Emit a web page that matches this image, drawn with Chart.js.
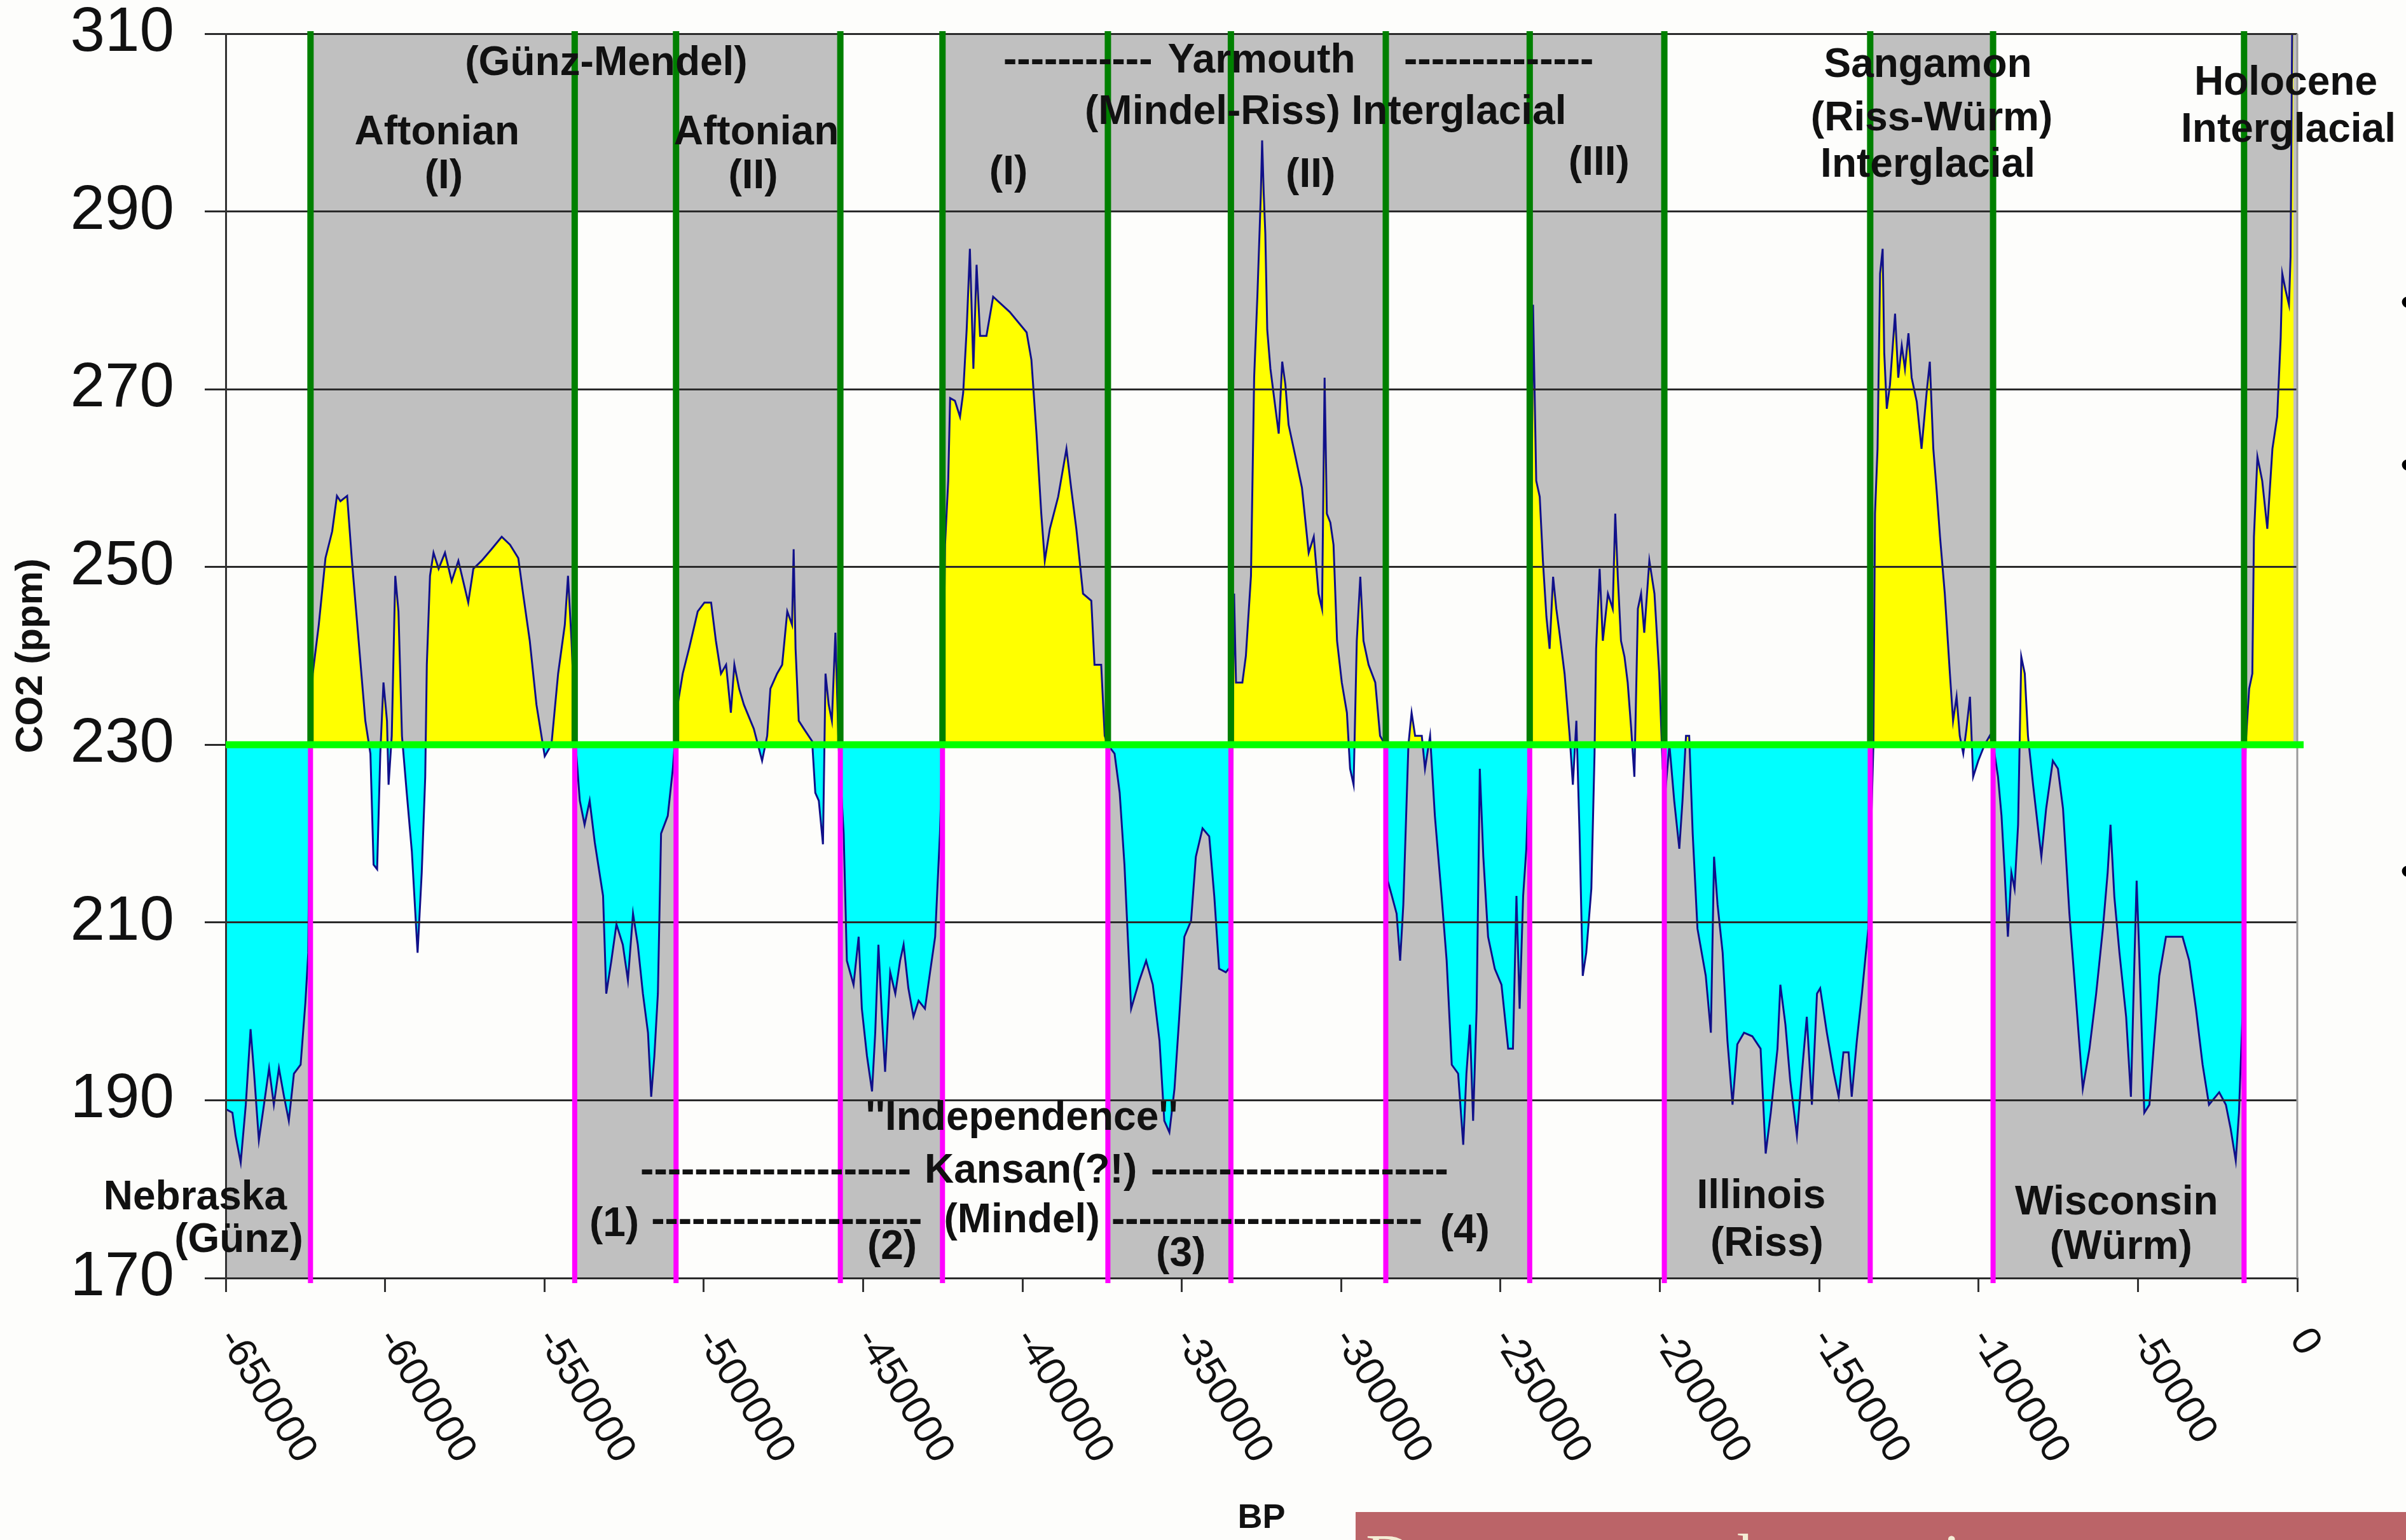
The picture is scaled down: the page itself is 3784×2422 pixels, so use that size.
<!DOCTYPE html>
<html>
<head>
<meta charset="utf-8">
<script src="https://cdn.jsdelivr.net/npm/chart.js@4.4.1/dist/chart.umd.min.js"></script>
<style>
  html, body { margin: 0; padding: 0; background: #fdfdfb; overflow: hidden; }
  #wrap { position: relative; width: 3784px; height: 2422px; }
  .bullet { position: absolute; left: 3775px; font: 64px "Liberation Sans", Arial, sans-serif; line-height: 64px; color: #000; }
  #slideBox { position: absolute; left: 2132px; top: 2378px; width: 1652px; height: 44px; background: #bb6468; overflow: hidden; }
  #slideBox span { position: absolute; left: 16px; top: 20px; font: 100px "Liberation Serif", serif; line-height: 100px; color: #f4ecd4; white-space: nowrap; }
</style>
</head>
<body>
<div id="wrap">
  <canvas id="graficoCO2" width="3784" height="2422"></canvas>
  <span class="bullet" style="top:443px">•</span>
  <span class="bullet" style="top:699px">•</span>
  <span class="bullet" style="top:1338px">•</span>
  <div id="slideBox"><span>Data compared across ice cores</span></div>
</div>
<script>
// CO2 record, years BP (negative) and ppm
const years = [
  -650000,-647900,-646900,-645300,-643700,-642200,-641100,-639600,-638000,-636400,-634900,-633300,-631700,-630200,-628600,-626500,-625000,-624100,-623400,-622700,
  -620800,-618700,-616600,-615100,-614000,-611900,-610400,-608300,-606200,-604600,-603600,-602500,-601500,-600500,-599400,-598900,-597900,-596800,-595800,-594700,
  -593200,-591600,-589800,-588500,-587400,-586900,-585900,-584800,-583200,-581200,-579100,-577000,-573900,-572300,-569700,-566600,-563400,-560800,-558200,-556700,
  -554600,-552500,-549900,-547800,-545700,-543600,-542600,-541500,-540000,-538900,-537400,-535800,-534200,-531600,-530600,-529000,-527400,-525400,-523800,-522200,
  -520700,-519100,-517500,-516500,-515500,-514400,-513400,-511300,-509700,-508200,-506600,-504500,-501900,-499800,-497700,-496200,-494600,-493000,-491500,-490400,
  -488900,-487400,-484300,-481700,-480100,-479100,-477000,-475400,-473800,-472300,-471800,-471200,-470200,-468600,-466000,-465000,-463900,-462600,-461800,-460800,
  -459800,-458700,-457700,-456100,-455100,-453000,-451400,-450400,-448800,-447200,-446200,-445200,-444100,-443100,-441500,-439900,-438400,-437300,-435800,-434200,
  -432600,-430600,-429000,-427400,-425900,-425000,-424300,-423300,-422700,-421200,-419600,-418600,-417500,-416500,-415400,-414400,-413300,-411300,-409200,-404000,
  -398700,-397200,-395600,-394100,-393000,-391400,-388800,-386200,-384700,-383100,-381000,-378400,-377400,-375300,-374200,-373200,-371100,-369500,-368000,-365900,
  -363300,-361200,-359100,-357000,-355500,-353900,-352300,-350800,-349200,-347100,-345600,-343500,-341400,-339800,-338300,-336200,-334800,-333600,-333000,-331000,
  -329900,-328300,-327300,-326300,-325200,-324800,-324300,-323800,-323200,-322200,-320600,-319600,-318500,-317500,-316500,-314400,-312300,-310200,-308600,-307100,
  -306000,-305200,-304500,-303400,-302400,-301300,-299800,-298200,-297200,-296100,-295100,-294000,-293000,-291400,-289300,-287800,-286200,-285400,-284100,-282600,
  -281500,-280500,-278900,-277900,-276800,-274700,-273700,-272100,-270600,-268500,-266900,-265300,-263300,-261700,-260700,-259600,-258600,-257500,-256500,-255400,
  -253900,-251800,-249700,-247600,-246100,-245000,-244000,-242900,-241900,-240800,-239800,-238800,-237700,-236700,-235600,-234600,-233500,-232500,-231500,-229900,
  -228300,-227300,-226200,-225200,-224200,-223100,-221500,-220500,-220000,-218900,-217900,-216300,-214800,-214000,-213200,-212200,-211100,-210100,-209000,-208000,
  -206900,-205900,-204900,-203300,-201700,-200200,-199100,-198100,-197000,-195500,-193900,-192900,-191800,-190800,-189700,-188200,-185600,-184000,-183000,-181900,
  -180300,-178800,-177200,-175700,-173600,-171000,-168400,-166800,-165200,-163100,-162200,-160600,-159100,-157000,-155400,-153900,-152300,-150700,-149700,-147600,
  -145500,-143900,-142400,-140800,-139800,-138200,-136600,-135600,-134600,-133000,-132500,-131700,-130900,-130100,-129600,-128800,-127800,-126200,-125200,-124100,
  -123100,-122000,-121000,-119400,-117900,-116300,-115300,-114200,-113200,-112100,-110600,-109000,-108000,-106900,-105900,-104800,-103800,-102700,-101700,-100100,
  -98100,-96500,-95400,-93900,-92800,-91800,-90800,-89700,-88700,-87600,-86600,-85500,-84500,-82900,-80300,-78800,-76700,-75100,-73500,-71500,
  -69400,-67300,-65200,-63100,-61000,-59500,-58600,-57400,-55800,-53700,-52200,-51100,-50400,-49600,-48000,-46400,-44900,-43300,-41200,-36000,
  -33900,-31800,-29700,-27700,-24500,-22400,-20900,-19300,-18300,-17200,-16200,-15100,-14100,-13600,-12500,-11000,-9400,-7800,-6300,-5200,
  -4700,-3700,-2600,-2100,-1200
];
const co2 = [
  189,188.6,186,183,189.5,198,193,185.5,189.5,193.6,189.5,193.6,190.4,187.7,193,194,201,206.6,232,238,
  243.5,251,254,258,257.4,258,250.7,241.7,232.7,229,216.5,216,229,237,232.7,225.5,231,249,245,231,
  224.6,218,206.6,215.6,226.4,239,249,251.6,249.8,251.6,248.4,250.7,246,249.8,250.7,252,253.4,252.5,251,247,
  241.7,234.5,228.7,230,238,243.5,249,241.7,229,223.7,221,223.7,219,213,202,205.7,209.8,207.5,203.5,211,
  207.5,202,197.6,190.4,195,202,220,222,227.3,234.5,238,241,245,246,246,241.7,238,239,233.6,239,
  236.3,234.5,231.8,228.2,231,236.3,238,239,245,243.5,252,240.8,232.7,231.8,230.4,224.6,223.7,218.8,238,234.5,
  232.7,242.6,230,220,205.7,203,208.4,200.3,195,191,197.6,207.5,199.4,193.2,204.4,202,205.7,207.5,202.6,199.4,
  201.2,200.3,204.4,208.4,220,230,252.5,259.7,269,268.7,266.9,269.6,276.8,285.8,272.3,284,276,276,280.4,278.7,
  276.4,273.3,265,256,250.7,254.3,257.9,263.3,258.8,254.3,247,246.2,239,239,231,230,229,224.6,216.5,200.3,
  203.5,205.7,203,196.7,187.7,186.4,191.3,199.4,208.4,210.2,217.4,220.6,219.7,212.9,204.8,204.4,205,247,237,237,
  240,249,271.4,280.4,292,298,292,287.5,276.7,272.3,267.8,265,273.1,270.5,266,262.5,258.9,251.6,253.4,247,
  245.3,271.3,256,255,252.5,241.7,237,233.6,227.3,225.5,241.7,248.9,241.7,239,237,231,230,214.7,213,211,
  205.7,212,230,233.6,231,231,227.3,231,222,213,205.7,194,193,185,193,198.5,187.7,200.3,227.3,217.4,
  208.4,204.8,203,195.8,195.8,213,200.3,213,218.3,230,279.5,259.7,257.9,250.7,244.4,240.8,248.9,245.3,242.6,238,
  231,225.5,232.7,220,204,206.6,213.8,229,240.8,249.8,241.7,247,245.3,256,248.9,241.7,239.9,237,231.8,226.4,
  245.3,247,242.6,250.7,247,238,227.3,225.5,230,223.7,218.3,223.7,231,231,220,209.3,204,197.6,217.4,212,
  206.6,196.7,189.5,196.3,197.6,197.2,195.8,184,188.6,195.8,203,198.5,192.2,186,193.2,199.4,189.5,202,202.6,197.6,
  193.2,190.4,195.4,195.4,190.4,196.7,202,205.7,209.3,230,256,263.3,283,285.8,274.1,267.8,270.5,278.5,271.3,274.9,
  272.3,276.3,271.3,268.6,263.3,269.6,273.1,263.3,258.8,253.4,247,238,232.7,235.4,231,229,231.8,235.4,226.4,228.2,
  230,231,230,226.4,222,215.6,208.4,215.6,213.8,221,239.9,238,231,225.5,217.4,222.8,228.2,227.3,222.8,211,
  201.2,191.3,195.8,202,209.3,215.6,221,212.9,206.6,199.4,190.4,205.7,214.7,206.6,188.6,189.5,196.7,204,208.4,208.4,
  205.7,200.3,194,189.5,190.9,189.5,186.8,183.2,188.6,199.4,230,236.3,238,253.4,262.4,259.7,254.3,263.3,266.9,275.8,
  283,281.2,279.5,284.9,330
];

// period boundaries (years BP) and shaded bands
const boundaries = [-623400,-540500,-508700,-457150,-425100,-373200,-334600,-286000,-240840,-198600,-134000,-95450,-16700];
const interglacialBands = [[-623400,-540500],[-508700,-457150],[-425100,-373200],[-334600,-286000],[-240840,-198600],[-134000,-95450],[-16700,0]];
const headerBands = [[-623400,-457150],[-425100,-198600]];
const glacialBands = [[-650000,-623400],[-540500,-508700],[-457150,-425100],[-373200,-334600],[-286000,-240840],[-198600,-134000],[-95450,-16700]];

const xTickValues = [-650000,-600000,-550000,-500000,-450000,-400000,-350000,-300000,-250000,-200000,-150000,-100000,-50000,0];
const xTickLabels = ["-650000","-600000","-550000","-500000","-450000","-400000","-350000","-300000","-250000","-200000","-150000","-100000","-50000","0"];
const yTickValues = [170,190,210,230,250,270,290,310];

// period names: text, year, ppm
const periodText = [
  ["(Günz-Mendel)", -530600, 306.6],
  ["Aftonian", -583700, 298.8],
  ["(I)", -581600, 293.9],
  ["Aftonian", -483500, 298.8],
  ["(II)", -484500, 293.9],
  ["Yarmouth", -325000, 306.9],
  ["(Mindel-Riss) Interglacial", -304900, 301.1],
  ["(I)", -404400, 294.3],
  ["(II)", -309600, 294.0],
  ["(III)", -219100, 295.4],
  ["Sangamon", -115900, 306.4],
  ["(Riss-Würm)", -114700, 300.4],
  ["Interglacial", -115900, 295.2],
  ["Holocene", -3600, 304.4],
  ["Interglacial", -2800, 299.1],
  ["Nebraska", -659600, 179.0],
  ["(Günz)", -645900, 174.2],
  ["''Independence''", -400200, 187.9],
  ["Kansan(?!)", -397400, 182.0],
  ["(1)", -528100, 176.0],
  ["(Mindel)", -400200, 176.4],
  ["(4)", -261200, 175.2],
  ["(2)", -440900, 173.4],
  ["(3)", -350300, 172.6],
  ["Illinois", -168200, 179.1],
  ["(Riss)", -166400, 173.8],
  ["Wisconsin", -56700, 178.4],
  ["(Würm)", -55300, 173.4]
];
const dashRuns = [
  [-406000, -357700, 306.9],
  [-280300, -219900, 306.9],
  [-519900, -434900, 182.0],
  [-359700, -266400, 182.0],
  [-516500, -430900, 176.4],
  [-372100, -274500, 176.4]
];

const periodsPlugin = {
  id: "periods",
  beforeDraw(chart) {
    const {ctx, scales: {x, y}} = chart;
    const band = (x0, x1, v0, v1) => {
      const l = x.getPixelForValue(x0), r = x.getPixelForValue(x1);
      const t = y.getPixelForValue(v1), b = y.getPixelForValue(v0);
      ctx.fillRect(l, t, r - l, b - t);
    };
    ctx.save();
    ctx.fillStyle = "#c0c0c0";
    interglacialBands.forEach(p => band(p[0], p[1], 230, 310));
    headerBands.forEach(p => band(p[0], p[1], 290, 310));
    glacialBands.forEach(p => band(p[0], p[1], 170, 230));
    ctx.restore();
  },
  afterDraw(chart) {
    const {ctx, chartArea: a, scales: {x, y}} = chart;
    const y230 = y.getPixelForValue(230);
    ctx.save();
    // right border
    ctx.strokeStyle = "#9a9a9a";
    ctx.lineWidth = 3;
    ctx.beginPath();
    ctx.moveTo(a.right, a.top);
    ctx.lineTo(a.right, a.bottom);
    ctx.stroke();
    // boundaries
    boundaries.forEach(b => {
      const px = x.getPixelForValue(b);
      ctx.strokeStyle = "#008000";
      ctx.lineWidth = 10;
      ctx.beginPath();
      ctx.moveTo(px, a.top - 4);
      ctx.lineTo(px, y230);
      ctx.stroke();
      ctx.strokeStyle = "#ff00ff";
      ctx.lineWidth = 8;
      ctx.beginPath();
      ctx.moveTo(px, y230);
      ctx.lineTo(px, a.bottom + 8);
      ctx.stroke();
    });
    ctx.strokeStyle = "#00ff00";
    ctx.lineWidth = 11;
    ctx.beginPath();
    ctx.moveTo(a.left, y230);
    ctx.lineTo(a.right + 10, y230);
    ctx.stroke();

    // period names
    ctx.fillStyle = "#111";
    ctx.font = 'bold 64px "Liberation Sans", Arial, sans-serif';
    ctx.textBaseline = "middle";
    ctx.textAlign = "center";
    periodText.forEach(t => ctx.fillText(t[0], x.getPixelForValue(t[1]), y.getPixelForValue(t[2])));
    ctx.textAlign = "left";
    const dw = ctx.measureText("-").width;
    dashRuns.forEach(d => {
      const l = x.getPixelForValue(d[0]), r = x.getPixelForValue(d[1]);
      const n = Math.max(1, Math.round((r - l) / dw));
      ctx.fillText("-".repeat(n), l, y.getPixelForValue(d[2]), r - l);
    });

    // slanted x tick labels
    ctx.font = '64px "Liberation Sans", Arial, sans-serif';
    ctx.textAlign = "left";
    xTickValues.forEach((v, i) => {
      const px = x.getPixelForValue(v);
      ctx.save();
      ctx.translate(px + 2, a.bottom + 86);
      ctx.rotate(58 * Math.PI / 180);
      ctx.fillText(xTickLabels[i], 0, 0);
      ctx.restore();
    });
    ctx.restore();
  }
};

Chart.defaults.font.family = '"Liberation Sans", Arial, sans-serif';

const miCanvas = document.getElementById("graficoCO2").getContext("2d");
const chart = new Chart(miCanvas, {
  type: "line",
  data: {
    datasets: [{
      label: "CO2",
      data: years.map((yr, i) => ({x: yr, y: co2[i]})),
      borderColor: "#10108a",
      borderWidth: 3,
      pointRadius: 0,
      tension: 0,
      fill: {target: {value: 230}, above: "#ffff00", below: "#00ffff"}
    }]
  },
  options: {
    responsive: false,
    animation: false,
    layout: {padding: {top: 53, right: 171, left: 0, bottom: 0}},
    plugins: {legend: {display: false}, tooltip: {enabled: false}},
    scales: {
      x: {
        type: "linear",
        min: -650000,
        max: 0,
        afterBuildTicks: s => { s.ticks = xTickValues.map(v => ({value: v})); },
        afterFit: s => { s.height = 412; s.paddingLeft = 0; s.paddingRight = 0; },
        ticks: {color: "rgba(0,0,0,0)", autoSkip: false, maxRotation: 0, minRotation: 0},
        grid: {drawOnChartArea: false, drawTicks: true, tickLength: 22, color: "#333", lineWidth: 3},
        border: {color: "#333", width: 3},
        title: {display: true, text: "BP", color: "#111", font: {size: 54, weight: "bold"}, padding: {top: 0, bottom: 1}}
      },
      y: {
        min: 170,
        max: 310,
        afterBuildTicks: s => { s.ticks = yTickValues.map(v => ({value: v})); },
        afterFit: s => { s.width = 355; s.paddingTop = 0; s.paddingBottom = 0; },
        ticks: {color: "#111", font: {size: 98}, padding: 48},
        grid: {z: 1, color: "#2a2a2a", lineWidth: 3, tickLength: 33},
        border: {z: 1, color: "#333", width: 3},
        title: {display: true, text: "CO2 (ppm)", color: "#111", font: {size: 60, weight: "bold"}, padding: {top: 13, bottom: 0}}
      }
    }
  },
  plugins: [periodsPlugin]
});
</script>
</body>
</html>
